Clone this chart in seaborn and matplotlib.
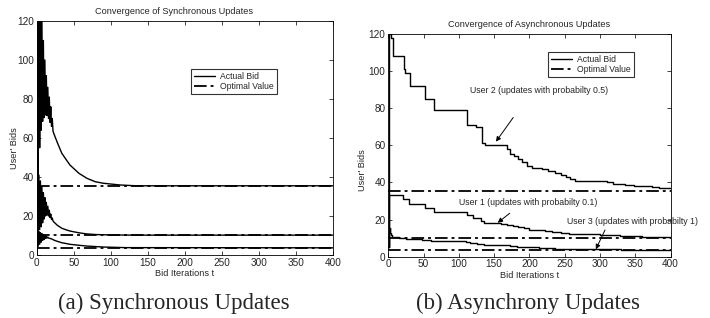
import matplotlib

matplotlib.use("Agg")
import matplotlib.pyplot as plt
import pandas as pd
import seaborn as sns

# ---- synchronous updates (left panel) ----
SYNC_T_U2 = list(range(23)) + [23, 28, 34, 40, 45, 57, 68, 79, 90, 113, 135, 400]
SYNC_B_U2 = [2, 150, 40, 142, 55, 133, 64, 123, 68.5, 110, 70.5, 100, 71.8, 92, 71.5, 86, 70, 81, 68, 76,
             66, 70, 63.5,
             62.4, 57.5, 52.1, 48.8, 46.1, 41.9, 39.3, 37.6, 36.8, 35.9, 35.5, 35.5]
SYNC_T_U1 = list(range(23)) + [23, 28, 34, 40, 45, 57, 68, 80, 100, 130, 400]
SYNC_B_U1 = [1, 44, 12, 41, 13, 38, 14.5, 35, 16.5, 32, 18.5, 29.5, 20, 27, 20.5, 25, 20, 23, 19.2, 21,
             18.2, 19, 17.5,
             17, 15.2, 13.7, 12.9, 12.3, 11.4, 10.8, 10.5, 10.3, 10.2, 10.2]
SYNC_T_U3 = list(range(17)) + [20, 23, 28, 34, 45, 57, 68, 90, 120, 400]
SYNC_B_U3 = [1, 13, 4.5, 12, 5.5, 11.5, 6.5, 11, 7.5, 10.5, 8, 10, 8.5, 9.5, 8.7, 9.2, 8.7,
             8.3, 7.7, 7, 6.3, 5.5, 5, 4.6, 4.1, 3.8, 3.7]

# ---- asynchronous updates (right panel), step changes ----
ASYNC_T_U2 = [0, 1, 4, 7, 22, 24, 31, 52, 65, 112, 124, 133, 137, 168, 172, 178, 184, 190, 196, 204,
              218, 226, 236, 244, 252, 258, 265, 310, 318, 336, 348, 374, 384, 400]
ASYNC_B_U2 = [5, 120, 118, 108, 101, 99, 92, 85, 79, 71, 70, 61, 60, 58, 55.5, 54, 52.5, 51, 49, 48,
              47, 46, 45, 44, 43, 42, 41, 40, 39, 38.5, 38, 37.5, 37, 37]
ASYNC_T_U1 = [0, 1, 21, 30, 52, 65, 111, 120, 132, 135, 160, 168, 176, 184, 192, 200, 212, 222, 232, 244,
              256, 266, 300, 312, 328, 344, 360, 380, 400]
ASYNC_B_U1 = [5, 33.5, 31, 28.5, 26, 24, 22.5, 21, 19.5, 18, 17.5, 17, 16.5, 15.8, 15.2, 14.6, 14.2, 13.8,
              13.2, 12.8, 12.3, 12, 11.8, 11.5, 11.2, 10.9, 10.7, 10.5, 10.5]
ASYNC_T_U3 = [0, 1, 2, 3, 4, 5, 6, 15, 25, 35, 48, 60, 72, 110, 116, 126, 136, 146, 172, 182, 196, 214,
              236, 270, 300, 330, 400]
ASYNC_B_U3 = [5, 14, 15.5, 13, 11.5, 10.8, 10.5, 10.2, 9.8, 9.4, 9.0, 8.6, 8.2, 7.8, 7.4, 7.0, 6.5, 6.1,
              5.8, 5.4, 5.0, 4.6, 4.3, 4.1, 3.9, 3.8, 3.8]

OPTIMAL = [35.5, 10.2, 3.7]
X_TICKS = list(range(0, 401, 50))
Y_TICKS = list(range(0, 121, 20))

sns.set_style("ticks")
plt.rcParams["font.family"] = ["Liberation Sans", "DejaVu Sans"]
plt.rcParams["axes.linewidth"] = 0.6
plt.rcParams["xtick.direction"] = "in"
plt.rcParams["ytick.direction"] = "in"

fig = plt.figure(figsize=(7.1, 3.18), dpi=100)
ax_l = fig.add_axes([0.0517, 0.198, 0.4173, 0.736])
ax_r = fig.add_axes([0.5469, 0.1928, 0.3977, 0.7003])

DASH = (0, (7, 2.2, 1.6, 2.2))


def draw_panel(ax, curves, steps, title, title_x, ylab_x, ylab_y):
    for i, (t, b) in enumerate(curves):
        df = pd.DataFrame({"t": t, "bid": b})
        kw = {"drawstyle": "steps-post"} if steps else {}
        sns.lineplot(data=df, x="t", y="bid", ax=ax, color="black", lw=1.0,
                     estimator=None, sort=False, label="Actual Bid" if i == 0 else None, **kw)
    for i, v in enumerate(OPTIMAL):
        ax.axhline(v, color="black", lw=1.3, linestyle=DASH,
                   label="Optimal Value" if i == 0 else None)
    ax.set_xlim(0, 400)
    ax.set_ylim(0, 120)
    ax.set_xticks(X_TICKS)
    ax.set_yticks(Y_TICKS)
    ax.tick_params(labelsize=7.2, length=3, width=0.6, top=True, right=True, pad=2)
    for s in ax.spines.values():
        s.set_visible(True)
        s.set_color("black")
    ax.set_xlabel("Bid Iterations t", fontsize=6.6, labelpad=1)
    ax.set_ylabel("User' Bids", fontsize=6.6)
    ax.yaxis.set_label_coords(ylab_x, ylab_y)
    ax.set_title(title, fontsize=6.6, x=title_x, pad=5)


draw_panel(ax_l, [(SYNC_T_U2, SYNC_B_U2), (SYNC_T_U1, SYNC_B_U1), (SYNC_T_U3, SYNC_B_U3)],
           False, "Convergence of Synchronous Updates", 0.463, -0.06, 0.457)
draw_panel(ax_r, [(ASYNC_T_U2, ASYNC_B_U2), (ASYNC_T_U1, ASYNC_B_U1), (ASYNC_T_U3, ASYNC_B_U3)],
           True, "Convergence of Asynchronous Updates", 0.5, -0.077, 0.39)

for ax, anchor in ((ax_l, (0.521, 0.795)), (ax_r, (0.5655, 0.919))):
    leg = ax.legend(loc="upper left", bbox_to_anchor=anchor, fontsize=6.2, frameon=True,
                    fancybox=False, handlelength=2.5, borderpad=0.3, labelspacing=0.2,
                    handletextpad=0.6, borderaxespad=0)
    leg.get_frame().set_edgecolor("black")
    leg.get_frame().set_linewidth(0.8)

arrow = dict(arrowstyle="-|>", color="black", lw=0.7, mutation_scale=7, shrinkA=0, shrinkB=0)
ax_r.text(116, 89.8, "User 2 (updates with probabilty 0.5)", fontsize=6.3, va="center")
ax_r.annotate("", xy=(152.5, 62), xytext=(177, 75), arrowprops=arrow)
ax_r.text(100.5, 29, "User 1 (updates with probabilty 0.1)", fontsize=6.3, va="center")
ax_r.annotate("", xy=(155, 18.3), xytext=(172, 23.4), arrowprops=arrow)
ax_r.text(252.7, 18.9, "User 3 (updates with probabilty 1)", fontsize=6.3, va="center")
ax_r.annotate("", xy=(294, 4), xytext=(307, 14.4), arrowprops=arrow)

cap = dict(fontsize=16.5, family=["Liberation Serif", "DejaVu Serif"], ha="center", va="center")
fig.text(174 / 710, 1 - 303 / 318, "(a) Synchronous Updates", **cap)
fig.text(528 / 710, 1 - 303 / 318, "(b) Asynchrony Updates", **cap)

fig.savefig("out.png", dpi=100)
